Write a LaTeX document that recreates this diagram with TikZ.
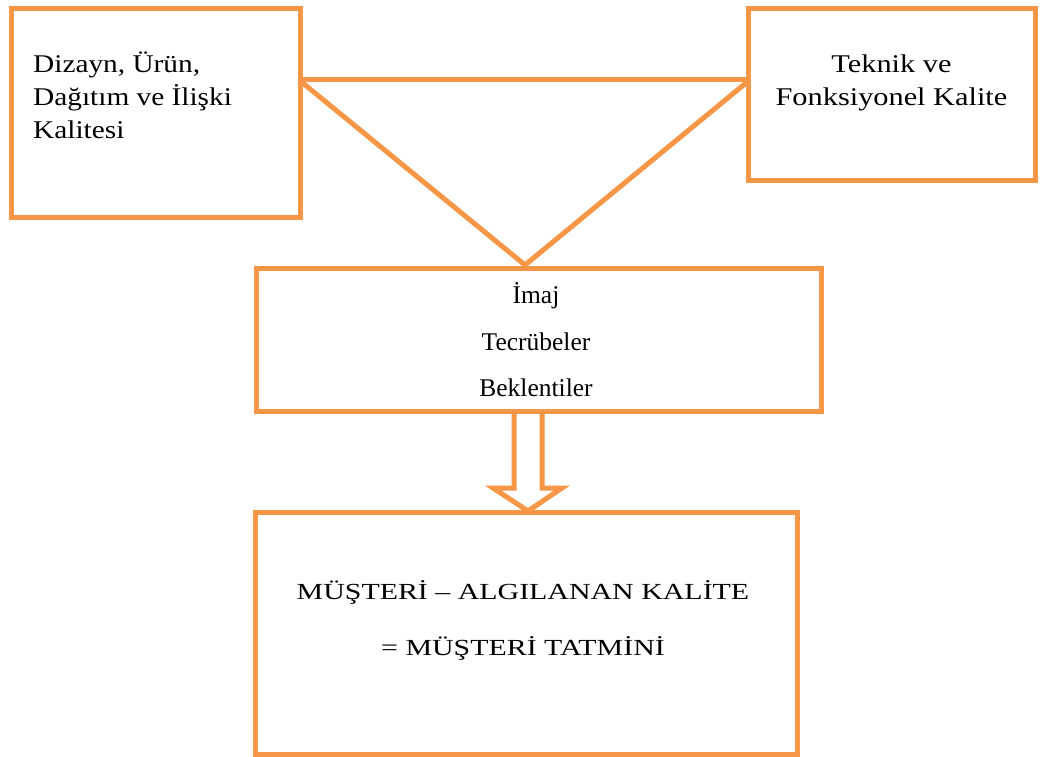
\documentclass[tikz,border=0pt]{standalone}
\usepackage{fontspec}
\setmainfont{Liberation Serif}
\newfontfamily\topfont[FakeStretch=1.15]{Liberation Serif}
\newfontfamily\topfontb[FakeStretch=1.19]{Liberation Serif}
\newfontfamily\botfont[FakeStretch=1.3]{Liberation Serif}
\usetikzlibrary{calc,backgrounds}
\definecolor{orangeline}{HTML}{F79646}
\tikzset{
  box/.style={draw=orangeline, line width=5pt, fill=white, rectangle, inner sep=0pt, outer sep=0pt},
  conn/.style={draw=orangeline, line width=5pt},
  toptext/.style={inner sep=0pt, font=\topfont\fontsize{25.5}{33}\selectfont},
  toptextb/.style={inner sep=0pt, font=\topfontb\fontsize{25.5}{33}\selectfont},
  midtext/.style={inner sep=0pt, align=center, font=\fontsize{25.5}{46.5}\selectfont},
  bottext/.style={inner sep=0pt, align=center, font=\botfont\fontsize{23}{55.5}\selectfont}
}
\begin{document}
\begin{tikzpicture}[x=1pt,y=-1pt]
\useasboundingbox (0,0) rectangle (1040,756);
% boxes
\node[box, minimum width=288.6pt, minimum height=209.7pt] (b1) at (156,113) {};
\node[box, minimum width=286.7pt, minimum height=172pt] (b2) at (891.7,94.4) {};
\node[box, minimum width=565pt, minimum height=143pt] (b3) at (538.5,339.5) {};
\node[box, minimum width=542pt, minimum height=242pt] (b4) at (526,633) {};
% texts (base anchor = baseline of the last line)
\node[toptext, align=left, anchor=base west] (t1) at (33,138) {Dizayn, Ürün,\\Dağıtım ve İlişki\\Kalitesi};
\node[toptextb, align=center, anchor=base] (t2) at (891.5,105) {Teknik ve\\Fonksiyonel Kalite};
\node[midtext, anchor=base] (t3) at (536,396.5) {İmaj\\Tecrübeler\\Beklentiler};
\node[bottext, anchor=base] (t4) at (523,655) {MÜŞTERİ – ALGILANAN KALİTE\\= MÜŞTERİ TATMİNİ};
% triangle connectors
\coordinate (tl) at (b1.east |- 0,79);
\coordinate (tr) at (b2.west |- 0,79);
\coordinate (apex) at ($(b3.north)+(-13.5,-3)$);
\draw[conn] (tl) -- (tr);
\draw[conn, line join=miter] ($(tl)+(0,2)$) -- (apex) -- ($(tr)+(0,2)$);
% block arrow
\begin{scope}[on background layer]
\draw[conn, fill=white, line join=miter]
  ($(b3.south)+(-24.5,0)$) -- ($(b3.south)+(-24.5,77)$) -- ($(b3.south)+(-45.5,77)$)
  -- ($(b4.north)+(2,-1)$) -- ($(b3.south)+(23.5,77)$) -- ($(b3.south)+(3.5,77)$)
  -- ($(b3.south)+(3.5,0)$);
\end{scope}
\end{tikzpicture}
\end{document}
